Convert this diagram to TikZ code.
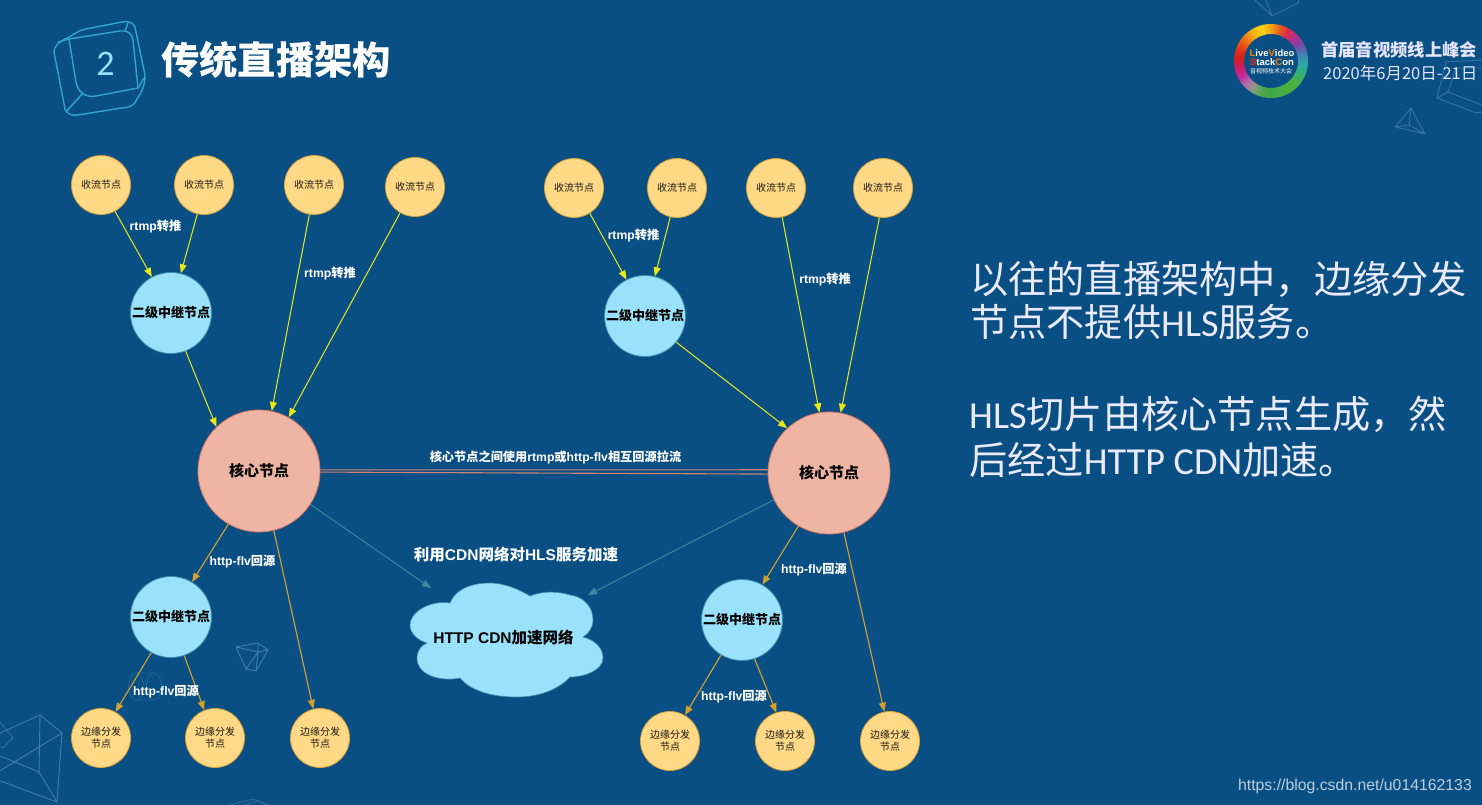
\documentclass[tikz,border=0pt]{standalone}
\usepackage{fontspec}
\setmainfont{Liberation Sans}
\newfontfamily\cjkf{Noto Sans CJK SC}
\newfontfamily\calf{Carlito}
\newcommand{\zh}[1]{{\cjkf #1}}
\usetikzlibrary{arrows.meta}
\definecolor{bgc}{HTML}{0A4F84}
\definecolor{orf}{HTML}{FFD985}
\definecolor{ors}{HTML}{D6A23A}
\definecolor{blf}{HTML}{9AE1FB}
\definecolor{bls}{HTML}{3F8FB0}
\definecolor{saf}{HTML}{EEB5A4}
\definecolor{sas}{HTML}{D9765F}
\definecolor{yel}{HTML}{E8E81A}
\definecolor{gol}{HTML}{D5A02E}
\definecolor{tea}{HTML}{3F8A9E}
\definecolor{red2}{HTML}{CE8270}
\definecolor{wire}{HTML}{3E7FAA}
\definecolor{keyc}{HTML}{2FA5D2}
\tikzset{
 recv/.style={circle,draw=ors,fill=orf,line width=.8pt,minimum size=59pt,inner sep=0pt,font=\cjkf\fontsize{10}{12}\selectfont,text=black!90,align=center},
 relay/.style={circle,draw=bls,fill=blf,line width=.8pt,minimum size=81pt,inner sep=0pt,font=\cjkf\fontsize{13}{15}\selectfont\bfseries,text=black},
 core/.style={circle,draw=sas,fill=saf,line width=.8pt,minimum size=122pt,inner sep=0pt,font=\cjkf\fontsize{15}{18}\selectfont\bfseries,text=black},
 lab/.style={text=white,inner sep=0pt,font=\fontsize{12.2}{14}\selectfont\bfseries},
 yar/.style={draw=yel,line width=1pt,-{Triangle[length=9pt,width=7pt]}},
 gar/.style={draw=gol,line width=1.1pt,-{Triangle[length=9pt,width=7pt]}},
 tar/.style={draw=tea,line width=.9pt,-{Triangle[length=9pt,width=7pt]}},
 big/.style={text=white!92!blue,inner sep=0pt,anchor=west,font=\calf\fontsize{38.2}{44}\selectfont},
 wf/.style={draw=wire,line width=.9pt,line join=round},
 keyl/.style={draw=keyc,line width=1.4pt,line join=round},
}
\begin{document}
\begin{tikzpicture}[x=1pt,y=-1pt]
\fill[bgc] (0,0) rectangle (1482,805);
\useasboundingbox (0,0) rectangle (1482,805);
% decorative wireframes
\draw[wf] (-2,734) -- (40,715) -- (62,733) -- (57,802) -- (-2,780);
\draw[wf] (40,715) -- (39,772) -- (-2,755) (62,733) -- (-2,772) (39,772) -- (57,802);
\draw[wf,opacity=.7] (0,722) -- (13,738) -- (3,748) -- (-2,746);
\draw[wf] (236,647) -- (258,643) -- (268,650) -- (256,671) -- (246,669) -- cycle (236,647) -- (258,652) -- (268,650) (258,643) -- (258,652) -- (246,669) (258,652) -- (256,671);
\draw[wf,opacity=.4] (136,673) -- (154,673) (136,700) -- (154,700) (136,686.5) ellipse [x radius=7.5,y radius=13.5] (154,686.5) ellipse [x radius=7.5,y radius=13.5];
\draw[wf,opacity=.6] (230,805) -- (253,799) -- (270,805) (244,805) -- (258,801) -- (266,805);
\draw[wf,opacity=.8] (1255,0) -- (1272,16) -- (1298,3) -- (1299,0) (1272,16) -- (1266,0);
\draw[wf,opacity=.8] (1395,127) -- (1411,108) -- (1425,134) -- cycle (1411,108) -- (1409,125) (1395,127) -- (1409,125) -- (1425,134);
\draw[wf,opacity=.8] (1446,62) -- (1482,60) (1446,62) -- (1437,98) -- (1476,113) -- (1482,112) (1437,98) -- (1448,92) -- (1482,105) (1448,92) -- (1456,68) -- (1482,68);
% key icon
\draw[keyl] (54,52) .. controls (54,47) and (58,42) .. (69,37) -- (76,33) .. controls (80,30) and (83,30) .. (86,29) -- (122,22) .. controls (128,21) and (133,22) .. (135,27) -- (145,75) .. controls (145,85) and (142,92) .. (137,99) .. controls (135,104) and (132,106) .. (128,107) -- (78,115) .. controls (72,116) and (67,114) .. (65,109) -- cycle;
\draw[keyl] (69,39) -- (120,31) .. controls (127,30) and (132,33) .. (133,40) -- (138,88) -- (96,96) .. controls (85,98) and (78,92) .. (76,82) -- cycle;
\draw[keyl] (69,39) -- (58,42) (128,23) -- (125,31) (83,93) -- (66,112) (138,88) -- (144,78);
\node[inner sep=0pt,text=blf,font=\calf\fontsize{36}{40}\selectfont] (num) at (105.5,64) {2};
\node[inner sep=0pt,anchor=west,text=white,font=\cjkf\fontsize{38.3}{42}\selectfont\bfseries] (title) at (161,60) {传统直播架构};
% logo ring (screen angle = minus listed value, so the listed value reads as y-up)
\foreach \a/\c/\n in {0/2F9FB0/2FAE8A,-15/2FAE8A/3FB05A,-30/3FB05A/4BB040,-45/4BB040/4BAF3F,-60/4BAF3F/45AC45,-75/45AC45/3FA83F,-90/3FA83F/50A850,-105/50A850/8A9A80,-120/8A9A80/B070B0,-135/B070B0/C02F9A,-150/C02F9A/C81F70,-165/C81F70/D22020,-180/D22020/E02A1A,-195/E02A1A/E85A15,-210/E85A15/F08A15,-225/F08A15/F5BE15,-240/F5BE15/F5D015,-255/F5D015/F0A010,-270/F0A010/E85A20,-285/E85A20/DC2A50,-300/DC2A50/B03090,-315/B03090/7A4AA8,-330/7A4AA8/4A7AB0,-345/4A7AB0/2F9FB0}{
 \definecolor{ringa}{HTML}{\c}
 \definecolor{ringb}{HTML}{\n}
 \foreach \k in {0,1,2,3}{
  \pgfmathsetmacro{\pp}{100-\k*25}
  \pgfmathsetmacro{\sa}{-\a+\k*3.75-0.4}
  \pgfmathsetmacro{\sb}{-\a+\k*3.75+4.15}
  \colorlet{ringm}{ringa!\pp!ringb}
  \fill[ringm] (1271,61) ++(\sa:37) arc[start angle=\sa,end angle=\sb,radius=37] -- ++(\sb:-10) arc[start angle=\sb,end angle=\sa,radius=27] -- cycle;
 }
}
\node[inner sep=0pt,text=white,align=center,font=\fontsize{9.5}{9.5}\selectfont\bfseries] (logo) at (1272,58) {\textcolor{orange}{L}ive\textcolor{orange}{V}ideo\\[-.5pt]\textcolor{red!70!orange}{S}tack\textcolor{orange}{C}on};
\node[inner sep=0pt,text=white,font=\cjkf\fontsize{6}{7}\selectfont] (logoz) at (1271,71) {音视频技术大会};
\node[inner sep=0pt,anchor=west,text=white!90!blue,font=\cjkf\fontsize{17.3}{20}\selectfont\bfseries] (h1) at (1321,50) {首届音视频线上峰会};
\node[inner sep=0pt,anchor=west,text=white!90!blue,font=\cjkf\fontsize{16.5}{18}\selectfont] (h2) at (1323,73) {2020年6月20日-21日};
% left group
\node[recv] (a1) at (101,185) {收流节点};
\node[recv] (a2) at (204,185) {收流节点};
\node[recv] (a3) at (314,185) {收流节点};
\node[recv] (a4) at (415,187) {收流节点};
\node[relay] (ra) at (171,313) {二级中继节点};
\node[core] (ca) at (259,471) {核心节点};
\node[relay] (rb) at (171,617) {二级中继节点};
\node[recv] (e1) at (101,738) {边缘分发\\节点};
\node[recv] (e2) at (215,738) {边缘分发\\节点};
\node[recv] (e3) at (320,738) {边缘分发\\节点};
% right group
\node[recv] (b1) at (574,188) {收流节点};
\node[recv] (b2) at (677,188) {收流节点};
\node[recv] (b3) at (776,188) {收流节点};
\node[recv] (b4) at (883,188) {收流节点};
\node[relay] (rc) at (645,316) {二级中继节点};
\node[core] (cb) at (829,473) {核心节点};
\node[relay] (rd) at (742,620) {二级中继节点};
\node[recv] (f1) at (670,741) {边缘分发\\节点};
\node[recv] (f2) at (785,741) {边缘分发\\节点};
\node[recv] (f3) at (890,741) {边缘分发\\节点};
% cloud
\draw[draw=bls,fill=blf,line width=.6pt] (450,603) .. controls (455,590) and (470,583) .. (490,583) .. controls (505,583) and (520,590) .. (530,596) .. controls (545,590) and (560,592) .. (570,595) .. controls (585,597) and (593,608) .. (593,620) .. controls (593,628) and (588,634) .. (583,637) .. controls (595,640) and (603,648) .. (603,658) .. controls (603,670) and (585,677) .. (570,677) .. controls (558,690) and (538,697) .. (517,697) .. controls (490,697) and (470,690) .. (460,678) .. controls (440,682) and (417,675) .. (417,658) .. controls (417,650) and (422,645) .. (427,643) .. controls (417,640) and (410,633) .. (410,625) .. controls (410,612) and (430,600) .. (450,603) -- cycle;
\node[inner sep=0pt,text=black,font=\fontsize{15.5}{17}\selectfont\bfseries] (cloudt) at (503.5,638) {HTTP CDN\zh{加速网络}};
\coordinate (cloudL) at (431,588);
\coordinate (cloudR) at (588,595);
% yellow
\draw[yar] (a1.-62.6) -- (ra.118.4);
\draw[yar] (a2.-103.6) -- (ra.76.3);
\draw[yar] (a3.-99.5) -- (ca.78.3);
\draw[yar] (a4.-120) -- (ca.61.4);
\draw[yar] (ra.-69.4) -- (ca.134);
\draw[yar] (b1.-58.4) -- (rc.117.8);
\draw[yar] (b2.-103.6) -- (rc.76.3);
\draw[yar] (b3.-78.3) -- (cb.99.2);
\draw[yar] (b4.-97.9) -- (cb.79.8);
\draw[yar] (rc.-40.3) -- (cb.133.7);
% gold
\draw[gar] (ca.-120.3) -- (rb.59);
\draw[gar] (ca.-76.9) -- (e3.103);
\draw[gar] (rb.-119.7) -- (e1.61.7);
\draw[gar] (rb.-71.6) -- (e2.111.4);
\draw[gar] (cb.-120.3) -- (rd.60.4);
\draw[gar] (cb.-76.9) -- (f3.101.3);
\draw[gar] (rd.-121.4) -- (f1.60);
\draw[gar] (rd.-72) -- (f2.107.8);
% core links
\draw[red2,line width=1.1pt] (ca.1.4) -- (cb.177.7);
\draw[red2,line width=1.1pt] (ca.-1.4) -- (cb.181.4);
% teal
\draw[tar] (ca.-33.7) -- (cloudL);
\draw[tar] (cb.206.6) -- (cloudR);
% labels
\node[lab] (l1) at (155.5,227) {rtmp\zh{转推}};
\node[lab] (l2) at (330,274) {rtmp\zh{转推}};
\node[lab] (l3) at (633.5,236) {rtmp\zh{转推}};
\node[lab] (l4) at (825,280) {rtmp\zh{转推}};
\node[lab] (l5) at (555.5,457) {\zh{核心节点之间使用}rtmp\zh{或}http-flv\zh{相互回源拉流}};
\node[lab] (l6) at (242.5,562) {http-flv\zh{回源}};
\node[lab] (l7) at (166,692) {http-flv\zh{回源}};
\node[lab] (l8) at (814,570) {http-flv\zh{回源}};
\node[lab] (l9) at (734,697) {http-flv\zh{回源}};
\node[lab,font=\fontsize{15.5}{17}\selectfont\bfseries] (l10) at (516,555) {\zh{利用}CDN\zh{网络对}HLS\zh{服务加速}};
% right text
\node[big] (t1) at (970,279) {\zh{以往的直播架构中，边缘分发}};
\node[big] (t2) at (970,322) {\zh{节点不提供}HLS\zh{服务。}};
\node[big] (t3) at (969,414) {HLS\zh{切片由核心节点生成，然}};
\node[big] (t4) at (969,460) {\zh{后经过}HTTP CDN\zh{加速。}};
\node[inner sep=0pt,anchor=east,text=white!72!bgc,font=\fontsize{15.8}{18}\selectfont] (wm) at (1472,786) {https://blog.csdn.net/u014162133};
\end{tikzpicture}
\end{document}
